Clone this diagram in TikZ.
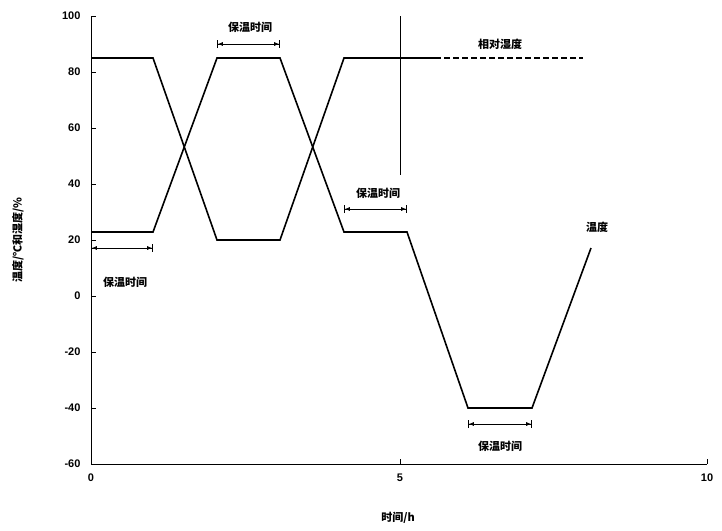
\documentclass[tikz,border=0pt]{standalone}
\usepackage{fontspec}
\setmainfont{Liberation Sans}
\newfontfamily\cjk{Noto Sans CJK SC}
\usetikzlibrary{arrows.meta}
\begin{document}
\begin{tikzpicture}[x=1pt,y=-1pt,
  curve/.style={line width=1.6pt,line join=miter},
  dim/.style={{Bar[width=8pt]Latex[length=5pt,width=4pt]}-{Latex[length=5pt,width=4pt]Bar[width=8pt]},line width=0.8pt},
  lab/.style={font=\cjk\bfseries\fontsize{11}{13}\selectfont},
  tick/.style={font=\bfseries\fontsize{11}{13}\selectfont}]
\useasboundingbox (0,0) rectangle (722,530);
% axes
\coordinate (o) at (91,464);
\draw[line width=1pt] (91,16) -- (o) -- (707,464);
\foreach \v in {100,80,60,40,20,0,-20,-40,-60}{
  \pgfmathsetmacro\yy{296-2.8*\v}
  \draw[line width=0.8pt] (91,\yy) -- (96,\yy);
  \node[tick,anchor=east] (yt\v) at (84,\yy) {\v};
}
\foreach \v/\xx in {0/91,5/400,10/707}{
  \draw[line width=0.8pt] (\xx,464) -- (\xx,459);
  \node[tick,anchor=north] (xt\v) at (\xx,470) {\v};
}
\draw[line width=0.8pt] (400,16) -- (400,175);
% humidity
\draw[curve] (91,58) -- (153,58) -- (217,240) -- (280,240) -- (344,58) -- (435,58);
\draw[curve,dash pattern=on 6pt off 3pt] (435,58) -- (583,58);
% temperature
\draw[curve] (91,232) -- (153,232) -- (217,58) -- (280,58) -- (344,232) -- (407,232) -- (468,408) -- (532,408) -- (591,248);
% hold-time dimensions
\coordinate (a1) at (217,44); \coordinate (b1) at (280,44);
\draw[dim] (a1) -- (b1);
\node[lab] (h1) at (250,27) {保温时间};
\coordinate (a2) at (344,209); \coordinate (b2) at (407,209);
\draw[dim] (a2) -- (b2);
\node[lab] (h2) at (378,193) {保温时间};
\coordinate (a3) at (91,248); \coordinate (b3) at (153,248);
\draw[dim] (a3) -- (b3);
\node[lab] (h3) at (125,282) {保温时间};
\coordinate (a4) at (468,424); \coordinate (b4) at (532,424);
\draw[dim] (a4) -- (b4);
\node[lab] (h4) at (500,446) {保温时间};
\node[lab] (rh) at (500,44) {相对湿度};
\node[lab] (tp) at (597,227) {温度};
\node[lab,rotate=90] (yl) at (18,240) {温度/℃和湿度/\%};
\node[lab] (xl) at (398,518) {时间/h};
\end{tikzpicture}
\end{document}
